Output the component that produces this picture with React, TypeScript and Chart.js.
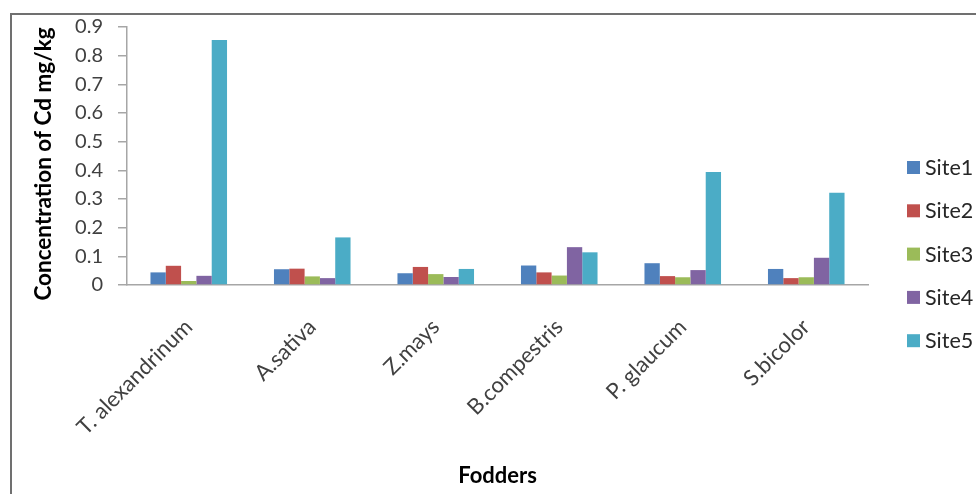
import { useEffect, useRef } from "react";
import { Chart, registerables } from "chart.js";

Chart.register(...registerables);

// Cadmium concentration (mg/kg) in fodder crops at five sampling sites
const fodders = ["T. alexandrinum", "A.sativa", "Z.mays", "B.compestris", "P. glaucum", "S.bicolor"];
const site1 = [0.044, 0.055, 0.041, 0.068, 0.076, 0.056];
const site2 = [0.067, 0.057, 0.063, 0.044, 0.031, 0.024];
const site3 = [0.014, 0.03, 0.038, 0.033, 0.027, 0.027];
const site4 = [0.032, 0.024, 0.028, 0.132, 0.052, 0.095];
const site5 = [0.855, 0.166, 0.056, 0.114, 0.394, 0.322];
const siteNames = ["Site1", "Site2", "Site3", "Site4", "Site5"];
const siteColors = ["#4F81BD", "#C0504D", "#9BBB59", "#8064A2", "#4BACC6"];
const yTicks = [0, 0.1, 0.2, 0.3, 0.4, 0.5, 0.6, 0.7, 0.8, 0.9];
const yTitle = "Concentration of Cd mg/kg";
const xTitle = "Fodders";

const FONT = "Lato, 'Open Sans', sans-serif";

// Rotated y-axis title drawn beside the tick labels
const yTitlePlugin = {
  id: "yTitle",
  afterDraw(chart: Chart) {
    const ctx = chart.ctx;
    ctx.save();
    ctx.translate(44, 164);
    ctx.rotate(-Math.PI / 2);
    ctx.font = `bold 22.5px ${FONT}`;
    ctx.fillStyle = "#000000";
    ctx.textAlign = "center";
    ctx.textBaseline = "middle";
    ctx.fillText(yTitle, 0, 0);
    ctx.restore();
  },
};

// Vertical legend on the right, one row per site
const sideLegendPlugin = {
  id: "sideLegend",
  afterDraw(chart: Chart) {
    const ctx = chart.ctx;
    ctx.save();
    ctx.font = `21.5px ${FONT}`;
    ctx.textAlign = "left";
    ctx.textBaseline = "middle";
    chart.data.datasets.forEach((ds, i) => {
      const cy = 168 + i * 43.3;
      ctx.fillStyle = ds.backgroundColor as string;
      ctx.fillRect(907, cy - 7, 13, 13);
      ctx.fillStyle = "#262626";
      ctx.fillText(String(ds.label), 925, cy);
    });
    ctx.restore();
  },
};

export default function App() {
  const canvasRef = useRef<HTMLCanvasElement | null>(null);

  useEffect(() => {
    let chart: Chart | null = null;
    let cancelled = false;
    const series = [site1, site2, site3, site4, site5];

    const build = () => {
      if (cancelled || !canvasRef.current) return;
      chart = new Chart(canvasRef.current, {
        type: "bar",
        data: {
          labels: fodders,
          datasets: series.map((values, i) => ({
            label: siteNames[i],
            data: values,
            backgroundColor: siteColors[i],
            borderWidth: 0,
            categoryPercentage: 0.62,
            barPercentage: 1.0,
          })),
        },
        options: {
          animation: false,
          responsive: false,
          devicePixelRatio: 1,
          layout: { padding: { left: 0, top: 24, right: 108, bottom: 0 } },
          plugins: {
            legend: { display: false },
            tooltip: { enabled: false },
          },
          scales: {
            x: {
              grid: { display: false, drawTicks: false },
              border: { display: true, color: "#a6a6a6", width: 1.5 },
              ticks: {
                color: "#404040",
                font: { family: FONT, size: 22 },
                minRotation: 45,
                maxRotation: 45,
                padding: 29,
              },
              title: {
                display: true,
                text: xTitle,
                color: "#000000",
                font: { family: FONT, size: 22, weight: "bold" },
                padding: { top: 0, bottom: 5 },
              },
              afterFit(scale: any) {
                scale.height = 209;
              },
            },
            y: {
              min: 0,
              max: 0.9,
              grid: {
                display: true,
                drawOnChartArea: false,
                drawTicks: true,
                tickLength: 9,
                color: "#a6a6a6",
                lineWidth: 1.5,
              },
              border: { display: true, color: "#a6a6a6", width: 1.5 },
              ticks: {
                color: "#404040",
                font: { family: FONT, size: 20 },
                padding: 15,
                callback: (v: any) => (Number(v) === 0 ? "0" : Number(v).toFixed(1)),
              },
              afterBuildTicks(scale: any) {
                scale.ticks = yTicks.map((value) => ({ value }));
              },
              afterFit(scale: any) {
                scale.width = 127;
              },
            },
          },
        },
        plugins: [yTitlePlugin, sideLegendPlugin],
      });
    };

    const fonts = (document as any).fonts;
    if (fonts && fonts.load) {
      Promise.all([fonts.load(`20px Lato`), fonts.load(`bold 20px Lato`)])
        .catch(() => undefined)
        .then(build);
    } else {
      build();
    }

    return () => {
      cancelled = true;
      if (chart) chart.destroy();
    };
  }, []);

  return (
    <div style={{ position: "absolute", left: 0, top: 0, width: 976, height: 494, background: "#ffffff", overflow: "hidden" }}>
      <div
        style={{
          position: "absolute",
          left: 10,
          top: 13,
          width: 976,
          height: 494,
          borderTop: "2px solid #707070",
          borderLeft: "2px solid #707070",
        }}
      />
      <canvas ref={canvasRef} width={976} height={494} style={{ position: "absolute", left: 0, top: 0, display: "block" }} />
    </div>
  );
}
